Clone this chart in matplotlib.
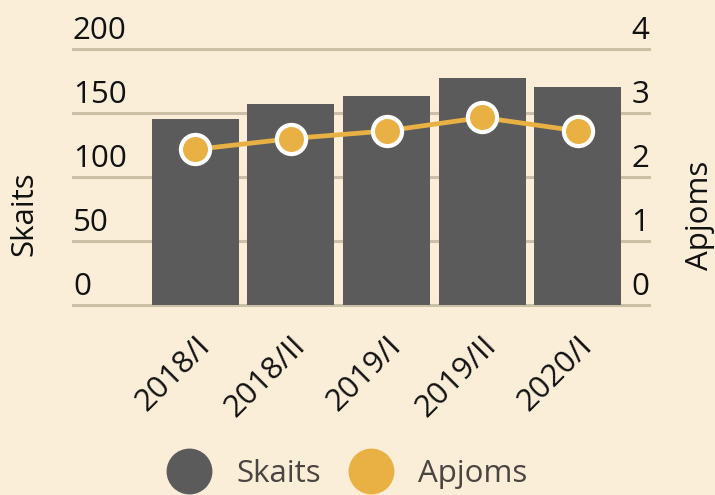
import matplotlib
matplotlib.use("Agg")
import matplotlib.pyplot as plt
import matplotlib.transforms as mtransforms
from matplotlib.lines import Line2D

categories = ["2018/I", "2018/II", "2019/I", "2019/II", "2020/I"]
skaits = [145, 157, 163, 177, 170]
apjoms = [2.43, 2.60, 2.72, 2.93, 2.72]
left_ticks = [0, 50, 100, 150, 200]
right_ticks = [0, 1, 2, 3, 4]

BG = "#faeed8"
BAR = "#5b5b5b"
ORANGE = "#e9b144"
GRID = "#cbbfa6"
TXT = "#111111"
LEG_TXT = "#4a4540"
FS = 22.5

plt.rcParams['font.family'] = ['Open Sans', 'DejaVu Sans']

W, H = 715, 495
fig = plt.figure(figsize=(W / 100, H / 100), dpi=100, facecolor=BG)
x0, x1 = 73, 649
y_top, y_bot = 49, 305
ax = fig.add_axes([x0 / W, 1 - y_bot / H, (x1 - x0) / W, (y_bot - y_top) / H])
ax.set_facecolor(BG)
ax.patch.set_alpha(0)
for s in ax.spines.values():
    s.set_visible(False)

xs = list(range(len(categories)))
ax.set_xlim(-1.28, 4.745)
ax.set_ylim(0, 200)
ax.bar(xs, skaits, width=0.91, color=BAR, zorder=2)
for v in left_ticks:
    ax.axhline(v, color=GRID, lw=2.2, zorder=1, clip_on=False)

ax.set_yticks([])
ax.set_xticks(xs)
ax.set_xticklabels(categories, rotation=45, ha='right', va='center',
                   rotation_mode='anchor', fontsize=FS, color=TXT)
ax.tick_params(axis='x', length=0, pad=26)
offset = mtransforms.ScaledTranslation(10 / 100, 0, fig.dpi_scale_trans)
for lab in ax.get_xticklabels():
    lab.set_transform(lab.get_transform() + offset)

# left tick labels
tr_l = mtransforms.blended_transform_factory(ax.transAxes, ax.transData)
up = mtransforms.ScaledTranslation(0, 10 / 100, fig.dpi_scale_trans)
for v in left_ticks:
    ax.text(0, v, str(v), transform=tr_l + up, ha='left', va='baseline',
            fontsize=FS, color=TXT, clip_on=False)

ax2 = ax.twinx()
ax2.set_ylim(0, 4)
ax2.set_yticks([])
for s in ax2.spines.values():
    s.set_visible(False)
ax2.plot(xs, apjoms, color=ORANGE, lw=3.4, marker='o', markersize=21,
         markerfacecolor=ORANGE, markeredgecolor='white', markeredgewidth=3,
         zorder=3, clip_on=False)
tr_r = mtransforms.blended_transform_factory(ax2.transAxes, ax2.transData)
for v in right_ticks:
    ax2.text(1, v, str(v), transform=tr_r + up, ha='right', va='baseline',
             fontsize=FS, color=TXT, clip_on=False)

fig.text(24 / W, 1 - 214 / H, "Skaits", rotation=90, ha='center', va='center',
         fontsize=FS, color=TXT)
fig.text(700 / W, 1 - 215 / H, "Apjoms", rotation=90, ha='center', va='center',
         fontsize=FS, color=TXT)

handles = [Line2D([], [], ls='none', marker='o', markersize=32, color=BAR),
           Line2D([], [], ls='none', marker='o', markersize=32, color=ORANGE)]
leg = fig.legend(handles, ["Skaits", "Apjoms"], loc='center', ncol=2,
                 bbox_to_anchor=(347 / W, 1 - 474 / H), frameon=False,
                 fontsize=FS, handlelength=1.4, handletextpad=0.8,
                 columnspacing=0.9, labelcolor=LEG_TXT)

fig.savefig("out.png", dpi=100, facecolor=BG)
